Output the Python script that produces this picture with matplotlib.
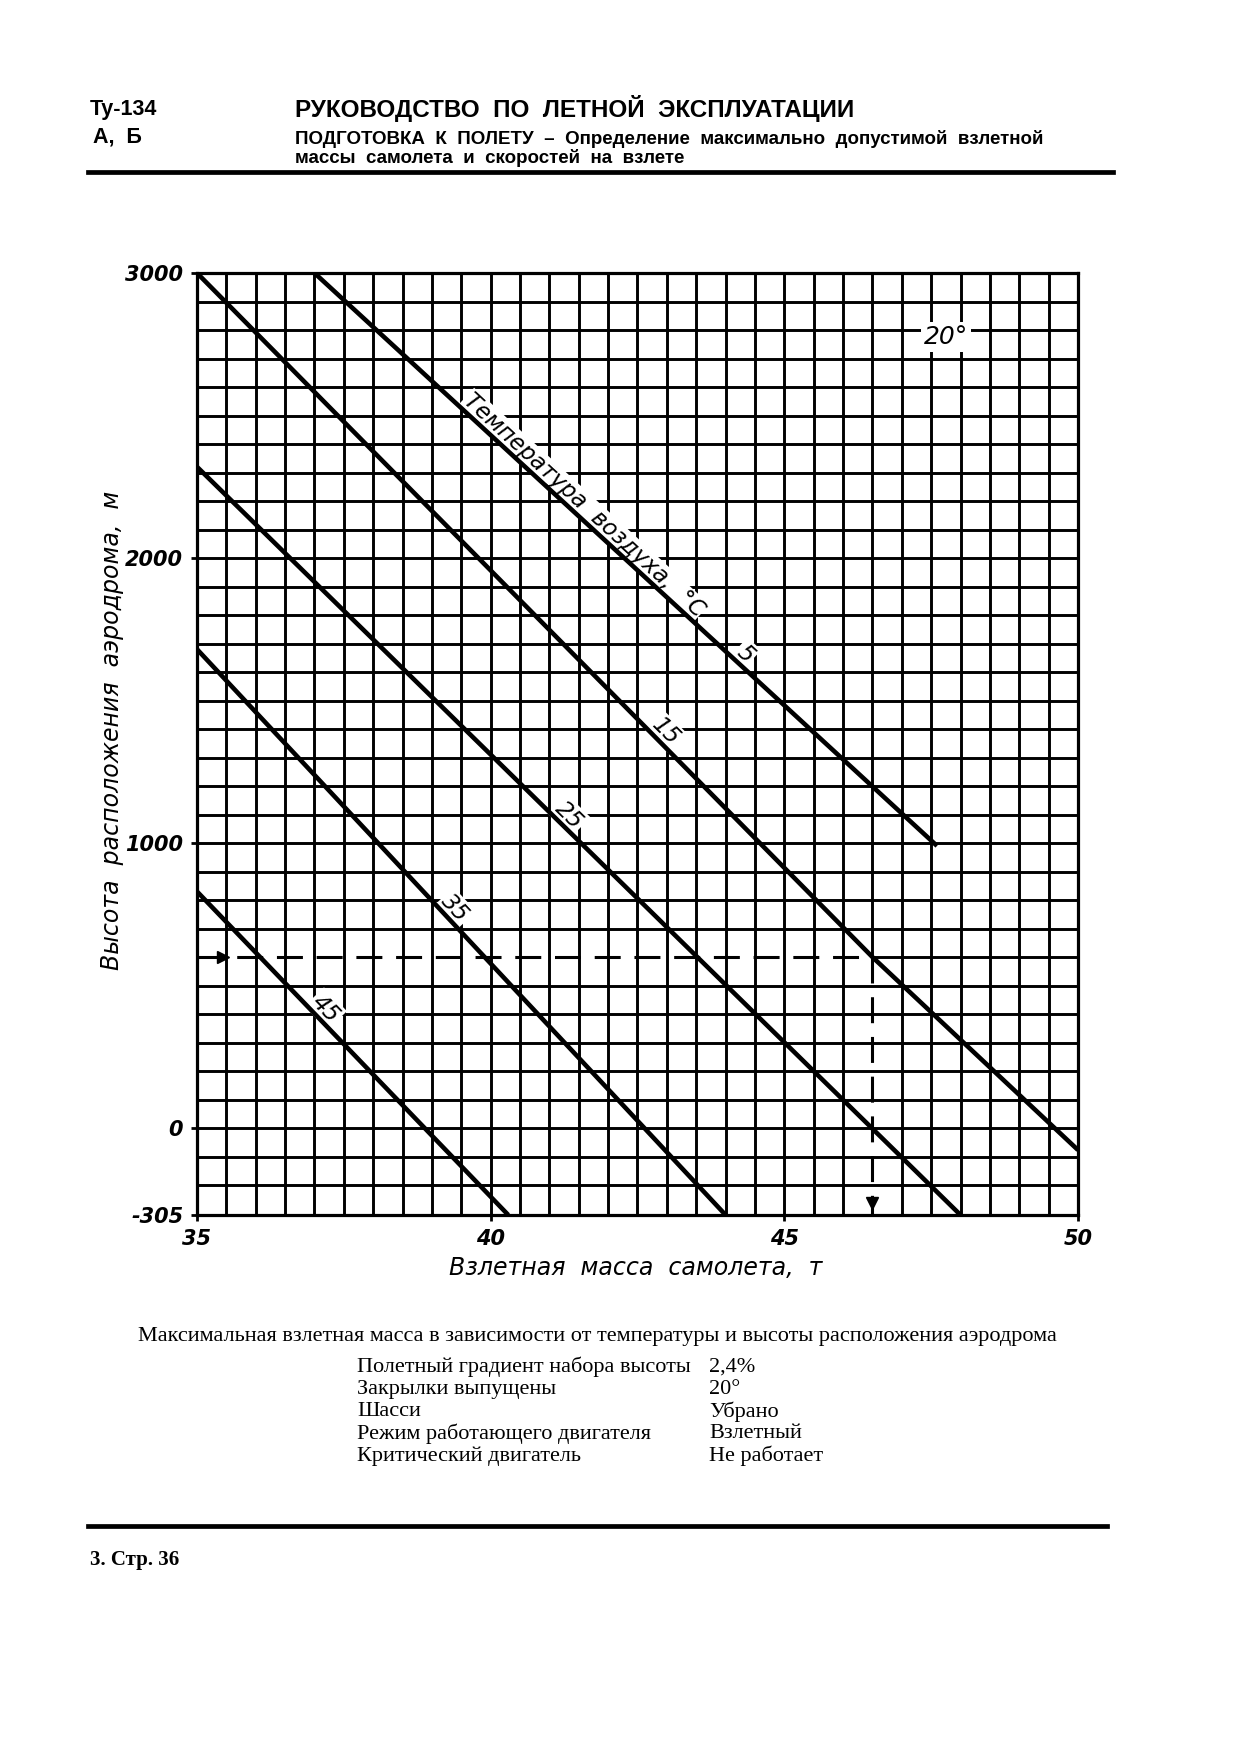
import numpy as np
import matplotlib
matplotlib.use('Agg')
import matplotlib.pyplot as plt
from matplotlib.lines import Line2D

plt.rcParams['axes.unicode_minus'] = False

# ---- data ----
mass_ticks = [35, 40, 45, 50]
alt_ticks = [-305, 0, 1000, 2000, 3000]

temp_labels = ['5', '15', '25', '35', '45']
mass_5 = [37.0, 47.6]
alt_5 = [3000, 990]
mass_15 = [35.0, 46.5, 50.0]
alt_15 = [3000, 600, -77]
mass_25 = [35.0, 48.0]
alt_25 = [2320, -305]
mass_35 = [35.0, 44.0]
alt_35 = [1680, -305]
mass_45 = [35.0, 40.3]
alt_45 = [830, -305]

# example: aerodrome at 600 m -> 46.5 t
example_alt = 600
example_mass = 46.5

conditions = ['Полетный градиент набора высоты', 'Закрылки выпущены', 'Шасси',
              'Режим работающего двигателя', 'Критический двигатель']
condition_values = ['2,4%', '20°', 'Убрано', 'Взлетный', 'Не работает']

W, H = 1250, 1763


def px(x, y):
    # page pixel -> figure fraction
    return x / W, 1 - y / H


fig = plt.figure(figsize=(12.5, 17.63), dpi=100)
fig.patch.set_facecolor('white')

# ---- header ----
fig.text(*px(90, 110), 'Ту-134', fontsize=15.5, fontweight='bold', family='Liberation Sans', va='center')
fig.text(*px(93, 137), 'А,  Б', fontsize=15.5, fontweight='bold', family='Liberation Sans', va='center')
fig.text(*px(295, 109), 'РУКОВОДСТВО  ПО  ЛЕТНОЙ  ЭКСПЛУАТАЦИИ', fontsize=17.5, fontweight='bold',
         family='Liberation Sans', va='center')
fig.text(*px(295, 139), 'ПОДГОТОВКА  К  ПОЛЕТУ  –  Определение  максимально  допустимой  взлетной',
         fontsize=13.5, fontweight='bold', family='Liberation Sans', va='center')
fig.text(*px(295, 158), 'массы  самолета  и  скоростей  на  взлете',
         fontsize=13.5, fontweight='bold', family='Liberation Sans', va='center')
fig.add_artist(Line2D([88 / W, 1113 / W], [1 - 172 / H] * 2, color='black', lw=3.4))

# ---- chart ----
ax = fig.add_axes([197 / W, 1 - 1215 / H, (1078 - 197) / W, (1215 - 273) / H])
ax.set_xlim(35, 50)
ax.set_ylim(-305, 3000)

ax.set_xticks(mass_ticks)
ax.set_yticks(alt_ticks)
ax.tick_params(which='major', length=4, width=2, pad=6, labelsize=15)
for lab in ax.get_xticklabels() + ax.get_yticklabels():
    lab.set_fontstyle('italic')
    lab.set_fontweight('bold')
for s in ax.spines.values():
    s.set_linewidth(2.3)

# grid every 0.5 t / 100 m; the example's dashed path replaces two grid lines
for gx in np.arange(35.5, 50, 0.5):
    low = example_alt if np.isclose(gx, example_mass) else -305
    ax.vlines(gx, low, 3000, color='black', lw=2.1, zorder=1)
for gy in np.arange(-200, 3000, 100):
    left = example_mass if np.isclose(gy, example_alt) else 35
    ax.hlines(gy, left, 50, color='black', lw=2.1, zorder=1)

lines = [(mass_5, alt_5), (mass_15, alt_15), (mass_25, alt_25), (mass_35, alt_35), (mass_45, alt_45)]
for m, a in lines:
    ax.plot(m, a, color='black', lw=3.3, solid_capstyle='butt', zorder=6)

# example with dashed arrows
ax.plot([35, example_mass], [example_alt, example_alt], color='black', lw=2.2,
        dashes=(8.5, 4.5), zorder=3)
ax.plot([example_mass, example_mass], [example_alt, -305], color='black', lw=2.2,
        dashes=(8.5, 4.5), zorder=3)
ax.plot([35.45], [example_alt], marker='>', ms=9, color='black', zorder=4)
ax.plot([example_mass], [-262], marker='v', ms=9, color='black', zorder=4)


def line_angle(m, a):
    p1 = ax.transData.transform((m[0], a[0]))
    p2 = ax.transData.transform((m[-1], a[-1]))
    return np.degrees(np.arctan2(p2[1] - p1[1], p2[0] - p1[0]))


def line_label(m, a, x, text, size, pad):
    y = np.interp(x, m, a)
    ax.text(x, y, text, fontsize=size, fontstyle='italic', rotation=line_angle(m, a),
            rotation_mode='anchor', ha='center', va='bottom', zorder=5,
            bbox=dict(facecolor='white', edgecolor='none', pad=pad))


label_x = [44.2, 42.85, 41.2, 39.25, 37.05]
for (m, a), lab, lx in zip(lines, temp_labels, label_x):
    line_label(m, a, lx, lab, 16.5, 1.5)

line_label(mass_5, alt_5, 41.45, 'Температура  воздуха,  °С', 16.5, 0.5)

ax.text(47.75, 2775, '20°', fontsize=18, fontstyle='italic', ha='center', va='center', zorder=5,
        bbox=dict(facecolor='white', edgecolor='none', pad=2))

fig.text(*px(112, 730), 'Высота  расположения  аэродрома,  м', fontsize=17, fontstyle='italic',
         rotation=90, ha='center', va='center')
fig.text(*px(636, 1268), 'Взлетная  масса  самолета,  т', fontsize=17, fontstyle='italic',
         ha='center', va='center')

# ---- caption and conditions ----
fig.text(*px(597, 1336), 'Максимальная взлетная масса в зависимости от температуры и высоты расположения аэродрома',
         fontsize=16, family='Liberation Serif', ha='center', va='center')
for i, (c, v) in enumerate(zip(conditions, condition_values)):
    y = 1367 + i * 22.3
    fig.text(*px(357, y), c, fontsize=16, family='Liberation Serif', va='center')
    fig.text(*px(709, y), v, fontsize=16, family='Liberation Serif', va='center')

# ---- footer ----
fig.add_artist(Line2D([88 / W, 1107 / W], [1 - 1526 / H] * 2, color='black', lw=3.4))
fig.text(*px(90, 1560), '3. Стр. 36', fontsize=15, family='Liberation Serif', fontweight='bold', va='center')

fig.savefig('out.png', dpi=100, facecolor='white')
